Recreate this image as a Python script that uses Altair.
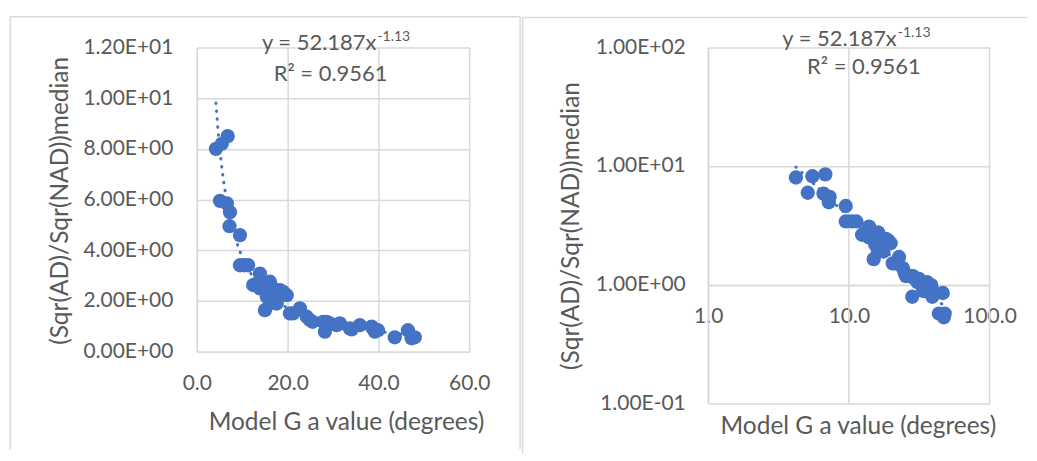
import altair as alt
import pandas as pd

# ---------------- data ----------------
model_g_a = [4.2, 5.5, 6.8, 5.1, 6.6, 7.3, 7.2, 9.5, 9.5, 10.5, 11.3, 12.4,
             13.9, 13.2, 13.9, 14.5, 16.1, 16.8, 18.3, 19.0, 19.8, 15.4, 15.0, 16.1,
             17.6, 16.8, 20.5, 21.2, 22.7, 24.2, 24.9, 25.5, 27.8, 28.2, 28.6, 29.3,
             30.8, 31.5, 33.7, 34.1, 35.9, 38.5, 38.8, 39.2, 39.9, 43.6, 46.5, 47.3, 48.0]
ratio_median = [8.0, 8.2, 8.5, 5.95, 5.85, 5.5, 4.95, 4.6, 3.41, 3.41, 3.41, 2.63,
                3.08, 2.69, 2.5, 2.6, 2.76, 2.5, 2.43, 2.36, 2.23, 2.17, 1.64, 1.9,
                1.9, 2.17, 1.51, 1.51, 1.71, 1.38, 1.25, 1.18, 1.18, 0.79, 1.18, 1.12,
                1.05, 1.12, 0.92, 0.88, 1.05, 0.99, 0.92, 0.79, 0.85, 0.57, 0.85, 0.53, 0.57]

eq_main = "y = 52.187x"
eq_exp = "-1.13"
eq_r2 = "R² = 0.9561"

x_title = "Model G a value (degrees)"
y_title = "(Sqr(AD)/Sqr(NAD))median"

lin_x_ticks = [0, 20, 40, 60]
lin_y_ticks = [0, 2, 4, 6, 8, 10, 12]
lin_y_labels = ["0.00E+00", "2.00E+00", "4.00E+00", "6.00E+00", "8.00E+00", "1.00E+01", "1.20E+01"]
log_x_ticks = [1, 10, 100]
log_y_ticks = [0.1, 1, 10, 100]
log_y_labels = ["1.00E-01", "1.00E+00", "1.00E+01", "1.00E+02"]

# ---------------- styling ----------------
BLUE = "#4472C4"
GRID = "#D9D9D9"
TEXT = "#595959"
FONT = "Lato"
LABEL_SIZE = 21
TITLE_SIZE = 24.5

df = pd.DataFrame({"a": model_g_a, "r": ratio_median})
one = pd.DataFrame({"k": [0]})


def label_expr(ticks, labels):
    expr = "''"
    for t, l in reversed(list(zip(ticks, labels))):
        expr = f"abs(datum.value - {t}) < 1e-9 ? '{l}' : ({expr})"
    return expr


common_axis = dict(
    grid=True, gridColor=GRID, gridWidth=1.5,
    domainColor=GRID, domainWidth=1.5,
    ticks=False, tickSize=0,
    labelFont=FONT, labelFontSize=LABEL_SIZE, labelColor=TEXT,
    labelFlush=False, labelOverlap=False, labelBound=False,
    titleFont=FONT, titleFontSize=TITLE_SIZE, titleColor=TEXT, titleFontWeight="normal",
)


def build_panel(w, h, xscale, yscale, xaxis, yaxis, frame, pos, right_edge, grid_x, align_y):
    X = alt.X("a:Q", scale=xscale, axis=xaxis)
    Y = alt.Y("r:Q", scale=yscale, axis=yaxis)

    fl, fr, ft, fb = frame
    layers = [
        alt.Chart(one).mark_rule(color=GRID, strokeWidth=1.5).encode(
            x=alt.value(fl), x2=alt.value(fr), y=alt.value(ft)),
        alt.Chart(one).mark_rule(color=GRID, strokeWidth=1.5).encode(
            x=alt.value(fl), y=alt.value(ft), y2=alt.value(fb)),
        alt.Chart(one).mark_rule(strokeOpacity=0).encode(
            x=alt.value(0), y=alt.value(align_y), y2=alt.value(align_y + 2)),
    ]
    if right_edge:
        layers.append(alt.Chart(one).mark_rule(color=GRID, strokeWidth=1.5).encode(
            x=alt.value(fr), y=alt.value(ft), y2=alt.value(fb)))
    if grid_x is not None:
        gdf = pd.DataFrame({"a": grid_x})
        layers.append(alt.Chart(gdf).mark_rule(color=GRID, strokeWidth=1.5).encode(
            x=X, y=alt.value(0), y2=alt.value(h)))

    trend = alt.Chart(df).transform_regression("a", "r", method="pow").mark_line(
        color=BLUE, strokeWidth=3, strokeDash=[0.5, 7.5], strokeCap="round").encode(x=X, y=Y)
    points = alt.Chart(df).mark_circle(size=205, color=BLUE, opacity=1).encode(x=X, y=Y)
    layers += [trend, points]

    mx, my, ex, ey, rx, ry = pos
    layers.append(alt.Chart(one).mark_text(align="right", baseline="alphabetic", font=FONT,
                                           fontSize=22, color=TEXT).encode(
        x=alt.value(mx), y=alt.value(my), text=alt.value(eq_main)))
    layers.append(alt.Chart(one).mark_text(align="left", baseline="alphabetic", font=FONT,
                                           fontSize=14, color=TEXT).encode(
        x=alt.value(ex), y=alt.value(ey), text=alt.value(eq_exp)))
    layers.append(alt.Chart(one).mark_text(align="center", baseline="alphabetic", font=FONT,
                                           fontSize=22, color=TEXT).encode(
        x=alt.value(rx), y=alt.value(ry), text=alt.value(eq_r2)))
    return alt.layer(*layers).properties(width=w, height=h)


# ---------------- left: linear panel ----------------
W1, H1 = 273, 305
lin_xscale = alt.Scale(domain=[0, 60], nice=False, zero=False)
lin_yscale = alt.Scale(domain=[0, 12], nice=False, zero=False)
lin_xaxis = alt.Axis(values=lin_x_ticks, format=".1f", title=x_title,
                     labelPadding=31.5, labelBaseline="middle",
                     titleX=149.5, titleY=78.3, titleBaseline="alphabetic", titleAlign="center",
                     **common_axis)
lin_yaxis = alt.Axis(values=lin_y_ticks, labelExpr=label_expr(lin_y_ticks, lin_y_labels),
                     title=y_title, labelPadding=24, labelBaseline="middle", labelAlign="right",
                     titleX=-136.5, titleY=153.3, titleAngle=-90, titleBaseline="middle",
                     titleAlign="center", **common_axis)

left = build_panel(
    W1, H1, lin_xscale, lin_yscale, lin_xaxis, lin_yaxis,
    frame=(-187, 324, -30.7, 403),
    pos=(180, 2.8, 181, -6, 134, 33.3),
    right_edge=True, grid_x=None, align_y=-34.7,
)

# ---------------- right: log-log panel ----------------
W2, H2 = 282, 356.6
log_xscale = alt.Scale(type="log", domain=[1, 100], nice=False)
log_yscale = alt.Scale(type="log", domain=[0.1, 100], nice=False)
log_xaxis_kw = dict(common_axis)
log_xaxis_kw["grid"] = False
log_xaxis = alt.Axis(values=log_x_ticks, format=".1f", title=x_title, offset=-118.6,
                     labelPadding=31.5, labelBaseline="middle",
                     titleX=150, titleY=149.3, titleBaseline="alphabetic", titleAlign="center",
                     **log_xaxis_kw)
log_yaxis = alt.Axis(values=log_y_ticks, labelExpr=label_expr(log_y_ticks, log_y_labels),
                     title=y_title, labelPadding=23, labelBaseline="middle", labelAlign="right",
                     titleX=-136.5, titleY=178.5, titleAngle=-90, titleBaseline="middle",
                     titleAlign="center", **common_axis)

right = build_panel(
    W2, H2, log_xscale, log_yscale, log_xaxis, log_yaxis,
    frame=(-186, 320, -30, 407),
    pos=(189, -1.7, 190, -10.5, 156, 26.3),
    right_edge=False, grid_x=log_x_ticks, align_y=-30.75,
)

chart = alt.hconcat(left, right, spacing=0.5).properties(
    padding={"left": 1.25, "top": 4, "right": 0, "bottom": 0}
).configure_view(strokeWidth=0)

chart.save("out.html", embed_options={"renderer": "svg", "actions": False})
